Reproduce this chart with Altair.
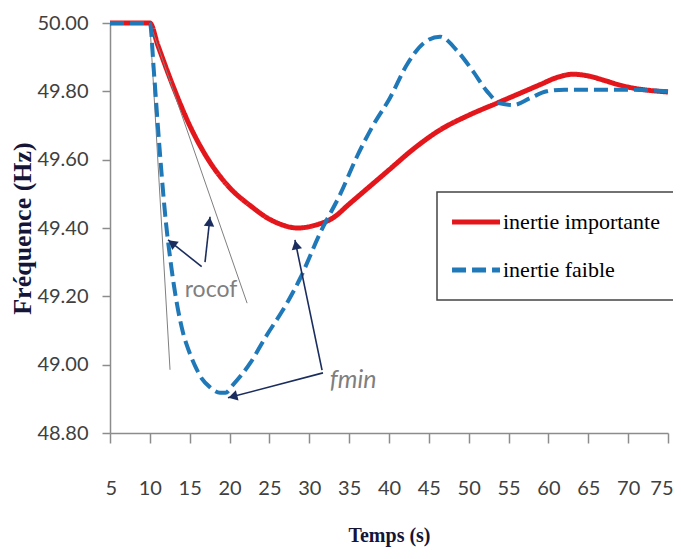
import math
import altair as alt
import pandas as pd

# ---- data ----
SER_IMP = "inertie importante"
SER_FAI = "inertie faible"

t_imp = [5, 10, 11, 13, 15, 17.2, 19.7, 22.9, 24.7, 26.5, 28.5, 31, 33, 35, 37.5, 40, 43, 46.4,
         50, 53.6, 56, 59, 61, 63.1, 65, 67, 69, 71, 73, 75]
f_imp = [50.0, 50.0, 49.935, 49.81, 49.70, 49.605, 49.526, 49.46, 49.43, 49.41, 49.40, 49.41, 49.43,
         49.47, 49.52, 49.57, 49.63, 49.687, 49.73, 49.766, 49.79, 49.82, 49.84, 49.85, 49.845, 49.832,
         49.818, 49.808, 49.802, 49.798]

t_fai = [5, 10, 10.5, 11, 11.5, 12, 12.5, 13, 13.5, 14.2, 14.9, 15.7, 16.5, 17.5, 18.8, 19.5, 20.4,
         22.6, 24.5, 27.2, 28.8, 31.35, 33.9, 36, 38, 40.1, 42.3, 44.3, 46.4, 48.5, 50.5, 52.3, 53.9,
         55.6, 57.7, 59.8, 62, 65, 70, 75]
f_fai = [50.0, 50.0, 49.86, 49.70, 49.55, 49.42, 49.32, 49.235, 49.165, 49.09, 49.04, 48.995, 48.96,
         48.935, 48.918, 48.918, 48.94, 49.005, 49.08, 49.18, 49.25, 49.385, 49.50, 49.61, 49.70, 49.78,
         49.88, 49.94, 49.96, 49.92, 49.86, 49.80, 49.765, 49.76, 49.78, 49.80, 49.805, 49.805, 49.805,
         49.80]

x_ticks = [5, 10, 15, 20, 25, 30, 35, 40, 45, 50, 55, 60, 65, 70, 75]
y_ticks = [48.8, 49.0, 49.2, 49.4, 49.6, 49.8, 50.0]

# tangent (rocof) lines
tan_t0 = [10, 10]
tan_f0 = [50.0, 50.0]
tan_t1 = [12.53, 22.2]
tan_f1 = [48.985, 49.18]

# annotation arrows: tail -> head
arr_t0 = [16.5, 16.92, 31.6, 31.72]
arr_f0 = [49.287, 49.30, 48.984, 48.976]
arr_t1 = [12.28, 17.55, 28.2, 19.8]
arr_f1 = [49.365, 49.433, 49.365, 48.903]

lab_text = ["rocof", "fmin"]
lab_t = [17.67, 35.5]
lab_f = [49.22, 48.955]

# ---- styling / geometry ----
W, H = 558, 410
X0, X1 = 5, 75
Y0, Y1 = 48.8, 50.0
RED = "#e3161c"
BLUE = "#1f78b8"
NAVY = "#1b2d5e"
GRAY = "#7f7f7f"
AX = "#8c8c8c"


def to_px(t, f):
    return (t - X0) * W / (X1 - X0), (Y1 - f) * H / (Y1 - Y0)


def to_data(px, py):
    return X0 + px * (X1 - X0) / W, Y1 - py * (Y1 - Y0) / H


heads = []
for a, b, c, d in zip(arr_t0, arr_f0, arr_t1, arr_f1):
    p0 = to_px(a, b)
    p1 = to_px(c, d)
    dx, dy = p1[0] - p0[0], p1[1] - p0[1]
    L = math.hypot(dx, dy)
    ang = math.degrees(math.atan2(dx, -dy)) % 360
    cx, cy = p1[0] - dx / L * 5, p1[1] - dy / L * 5
    ht, hf = to_data(cx, cy)
    heads.append({"t": ht, "f": hf, "angle": ang})

df_lines = pd.DataFrame(
    [{"t": t, "f": f, "serie": SER_IMP} for t, f in zip(t_imp, f_imp)]
    + [{"t": t, "f": f, "serie": SER_FAI} for t, f in zip(t_fai, f_fai)]
)
df_tan = pd.DataFrame({"t0": tan_t0, "f0": tan_f0, "t1": tan_t1, "f1": tan_f1})
df_arr = pd.DataFrame({"t0": arr_t0, "f0": arr_f0, "t1": arr_t1, "f1": arr_f1})
df_head = pd.DataFrame(heads)
df_lab = pd.DataFrame({"text": lab_text, "t": lab_t, "f": lab_f})

xscale = alt.Scale(domain=[X0, X1], nice=False, zero=False)
yscale = alt.Scale(domain=[Y0, Y1], nice=False, zero=False)

xaxis = alt.Axis(
    values=x_ticks, title="Temps (s)", grid=False, tickSize=10, labelPadding=35,
    labelOverlap=False, labelFlush=True, labelFlushOffset=5, labelFont="Lato",
    labelFontSize=20, labelColor="#404040",
    domainColor=AX, tickColor=AX, domainWidth=1.5, tickWidth=1.5,
    titleFont="Liberation Serif", titleFontWeight="bold", titleFontSize=20,
    titleColor="#151538", titlePadding=27,
)
yaxis = alt.Axis(
    values=y_ticks, format=".2f", title="Fréquence (Hz)", grid=False, tickSize=8,
    labelPadding=14, labelFont="Lato", labelFontSize=20, labelColor="#404040",
    domainColor=AX, tickColor=AX, domainWidth=1.5, tickWidth=1.5,
    titleFont="Liberation Serif", titleFontWeight="bold", titleFontSize=26,
    titleColor="#151538", titleAngle=-90, titleX=-88, titleY=205,
    titleAlign="center", titleBaseline="middle",
)


def X(field):
    return alt.X(field, type="quantitative", scale=xscale, axis=xaxis)


def Y(field):
    return alt.Y(field, type="quantitative", scale=yscale, axis=yaxis)


leg = alt.Legend(
    title=None, orient="none", legendX=327, legendY=169,
    labelFont="Liberation Serif", labelFontSize=22, labelColor="black",
    symbolType="M-1.76,0L3.88,0", symbolSize=289, symbolStrokeWidth=5, labelOffset=25,
    rowPadding=26, padding=19, strokeColor="#444444", fillColor="white",
)
color = alt.Color("serie:N", scale=alt.Scale(domain=[SER_IMP, SER_FAI], range=[RED, BLUE]), legend=leg)
dash = alt.StrokeDash("serie:N", scale=alt.Scale(domain=[SER_IMP, SER_FAI], range=[[1, 0], [14, 6]]), legend=leg)

base = alt.Chart(df_lines)
red_line = base.transform_filter(alt.datum.serie == SER_IMP).mark_line(
    strokeWidth=5, interpolate="monotone"
).encode(x=X("t"), y=Y("f"), color=color, strokeDash=dash)
blue_line = base.transform_filter(alt.datum.serie == SER_FAI).mark_line(
    strokeWidth=4, interpolate="monotone"
).encode(x=X("t"), y=Y("f"), color=color, strokeDash=dash)

tangents = alt.Chart(df_tan).mark_rule(color=GRAY, strokeWidth=1).encode(
    x=X("t0"), y=Y("f0"), x2="t1:Q", y2="f1:Q"
)
arrows = alt.Chart(df_arr).mark_rule(color=NAVY, strokeWidth=1.6).encode(
    x=X("t0"), y=Y("f0"), x2="t1:Q", y2="f1:Q"
)
arrow_heads = alt.Chart(df_head).mark_point(
    shape="triangle-up", filled=True, color=NAVY, size=110, opacity=1
).encode(x=X("t"), y=Y("f"), angle=alt.Angle("angle:Q", scale=None))

rocof = alt.Chart(df_lab).transform_filter(alt.datum.text == "rocof").mark_text(
    font="Lato", fontSize=23, color=GRAY, align="center", baseline="middle"
).encode(x=X("t"), y=Y("f"), text="text:N")
fmin = alt.Chart(df_lab).transform_filter(alt.datum.text == "fmin").mark_text(
    font="Lato", fontSize=25, fontStyle="italic", color=GRAY, align="center", baseline="middle"
).encode(x=X("t"), y=Y("f"), text="text:N")

chart = alt.layer(
    red_line, tangents, blue_line, arrows, arrow_heads, rocof, fmin
).resolve_scale(color="shared", strokeDash="shared").properties(
    width=W, height=H,
    autosize=alt.AutoSizeParams(type="none"),
    padding={"left": 102, "top": 15, "right": 5, "bottom": 118},
).configure_view(stroke=None).configure_legend(
    cornerRadius=0, strokeWidth=1.5,
).configure_axisX(labelOverlap=False)

chart.save("out.html", embed_options={"renderer": "svg", "actions": False})
